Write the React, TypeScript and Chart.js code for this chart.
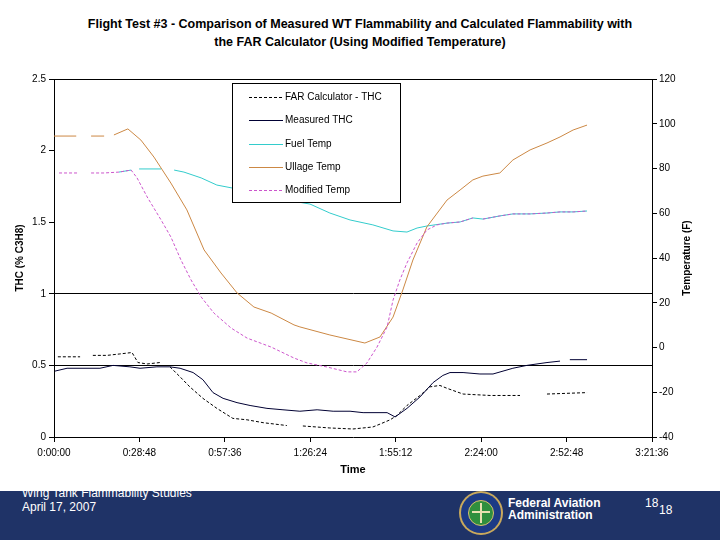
import React, { useEffect, useRef } from 'react';
import { Chart, registerables } from 'chart.js';

Chart.register(...registerables);

// ---- axis definitions ----
const thcTicks = [0, 0.5, 1, 1.5, 2, 2.5];
const thcLimitLines = [0.5, 1];
const tempTicks = [-40, -20, 0, 20, 40, 60, 80, 100, 120];
const timeTickLabels = ['0:00:00', '0:28:48', '0:57:36', '1:26:24', '1:55:12', '2:24:00', '2:52:48', '3:21:36'];
const timeStepSec = 1728;

// ---- series (time in minutes, null = gap) ----
const farTime = [1.3, 8.8, 10.9, 13.1, 17.9, 22.2, 26.3, 28.3, 31.4, 35.7, 37.4, 39.1, 42.5, 45.8, 50.2, 54.9, 60.3, 65.1, 70.5, 78.5, 81.2, 83.9, 93.0, 100.8, 107.5, 109.9, 113.3, 115.6, 119.0, 123.4, 126.7, 130.1, 132.5, 137.9, 147.0, 157.1, 161.6, 166.2, 179.7];
const farTHC = [0.56, 0.56, null, 0.57, 0.57, 0.58, 0.59, 0.52, 0.51, 0.52, null, 0.49, 0.42, 0.35, 0.27, 0.2, 0.13, 0.12, 0.1, 0.08, null, 0.077, 0.063, 0.056, 0.07, 0.09, 0.12, 0.15, 0.22, 0.29, 0.35, 0.36, 0.34, 0.3, 0.29, 0.29, null, 0.3, 0.31];

const measuredTime = [0.3, 4.4, 15.5, 19.9, 25.6, 29.0, 34.7, 39.1, 42.5, 46.9, 50.2, 53.6, 57.0, 61.7, 66.1, 71.8, 77.2, 82.9, 88.7, 94.1, 99.8, 104.2, 112.3, 115.0, 119.0, 123.4, 127.8, 131.1, 133.5, 137.9, 143.6, 148.0, 154.7, 159.4, 166.2, 170.6, 172.2, 173.9, 179.7];
const measuredTHC = [0.46, 0.48, 0.48, 0.5, 0.49, 0.48, 0.49, 0.49, 0.48, 0.45, 0.4, 0.31, 0.27, 0.24, 0.22, 0.2, 0.19, 0.18, 0.19, 0.18, 0.18, 0.17, 0.17, 0.14, 0.2, 0.28, 0.38, 0.43, 0.45, 0.45, 0.44, 0.44, 0.48, 0.5, 0.52, 0.53, null, 0.54, 0.54];

const fuelTime = [21.9, 26.0, 27.4, 28.7, 36.1, 38.3, 40.5, 43.8, 49.6, 54.9, 60.0, 69.0, 78.0, 86.3, 93.0, 99.8, 107.5, 114.3, 119.0, 122.4, 125.7, 132.5, 136.9, 141.2, 144.6, 150.3, 154.7, 160.5, 166.2, 170.6, 175.0, 179.7];
const fuelTemp = [78.4, 79.3, null, 79.8, 79.8, null, 79.3, 78.4, 75.8, 72.6, 71.3, 68.5, 66.0, 64.1, 60.1, 57.0, 54.8, 52.1, 51.6, 53.4, 54.3, 55.6, 56.1, 57.9, 57.4, 58.8, 59.7, 59.7, 60.1, 60.6, 60.6, 61.0];

const ullageTime = [0, 7.5, 9.5, 12.5, 16.9, 18.5, 20.2, 24.9, 29.3, 33.7, 39.4, 44.8, 50.6, 56.3, 61.7, 67.4, 73.2, 80.9, 82.9, 93.0, 104.8, 109.9, 114.3, 117.6, 121.0, 125.7, 132.5, 136.9, 141.2, 144.6, 150.3, 154.7, 160.5, 166.2, 170.6, 175.0, 179.7];
const ullageTemp = [94.5, 94.5, null, 94.5, 94.5, null, 95.0, 97.7, 92.7, 85.1, 73.5, 61.5, 43.6, 33.3, 24.4, 18.1, 15.4, 10.1, 9.2, 5.6, 2.0, 4.7, 13.6, 25.7, 39.1, 53.9, 65.9, 70.4, 74.9, 76.6, 78.0, 83.8, 88.3, 91.4, 94.1, 97.2, 99.4];

const modifiedTime = [1.7, 8.4, 10.5, 12.5, 16.9, 21.9, 26.0, 28.0, 31.4, 36.1, 39.4, 42.8, 46.2, 49.6, 53.9, 59.7, 65.1, 73.2, 80.9, 85.3, 92.0, 98.8, 102.1, 105.5, 108.9, 112.3, 114.3, 116.6, 119.0, 122.4, 125.7, 129.1, 132.5, 136.9, 141.2, 142.5, 144.6, 150.3, 154.7, 160.5, 166.2, 170.6, 175.0, 179.7];
const modifiedTemp = [78.0, 78.0, null, 78.0, 78.0, 78.4, 79.3, 75.8, 67.3, 57.0, 49.4, 39.1, 30.2, 22.6, 15.4, 8.7, 4.2, 0.2, -4.7, -6.9, -8.7, -10.9, -10.9, -6.9, 0.2, 9.2, 21.2, 30.2, 37.8, 46.7, 52.5, 54.8, 55.6, 56.1, 57.9, null, 57.4, 58.8, 59.7, 59.7, 60.1, 60.6, 60.6, 61.0];

const seriesLabels = ['FAR Calculator - THC', 'Measured THC', 'Fuel Temp', 'Ullage Temp', 'Modified Temp'];

const FONT = '"Liberation Sans", Arial, sans-serif';

function toPoints(times: number[], vals: (number | null)[]) {
  return times.map((t, i) => ({ x: t * 60, y: vals[i] }));
}

const overlayPlugin = {
  id: 'overlay',
  afterDraw(chart: any) {
    const { ctx, chartArea: ca } = chart;
    ctx.save();
    // top border of the plot area
    ctx.strokeStyle = '#000';
    ctx.lineWidth = 1;
    ctx.setLineDash([]);
    const ty = Math.floor(ca.top) + 0.5;
    ctx.beginPath();
    ctx.moveTo(Math.floor(ca.left), ty);
    ctx.lineTo(Math.ceil(ca.right), ty);
    ctx.stroke();

    // legend box
    const x0 = Math.round(ca.left + 178);
    const y0 = Math.round(ca.top + 4);
    const w = 169;
    const h = 120;
    ctx.fillStyle = '#fff';
    ctx.fillRect(x0, y0, w, h);
    ctx.strokeStyle = '#000';
    ctx.strokeRect(x0 + 0.5, y0 + 0.5, w - 1, h - 1);
    chart.data.datasets.forEach((ds: any, i: number) => {
      const y = Math.round(y0 + 14 + i * 23.25) + 0.5;
      ctx.strokeStyle = ds.borderColor;
      ctx.lineWidth = 1;
      ctx.setLineDash(ds.borderDash || []);
      ctx.beginPath();
      ctx.moveTo(x0 + 17, y);
      ctx.lineTo(x0 + 51, y);
      ctx.stroke();
      ctx.setLineDash([]);
      ctx.fillStyle = '#000';
      ctx.font = '10px ' + FONT;
      ctx.textBaseline = 'middle';
      ctx.textAlign = 'left';
      ctx.fillText(ds.label, x0 + 53, y);
    });

    // right axis title
    ctx.translate(687, (ca.top + ca.bottom) / 2);
    ctx.rotate(-Math.PI / 2);
    ctx.font = 'bold 10px ' + FONT;
    ctx.fillStyle = '#000';
    ctx.textAlign = 'center';
    ctx.textBaseline = 'middle';
    ctx.fillText('Temperature (F)', 0, 0);
    ctx.restore();
  },
};

export default function App() {
  const ref = useRef<HTMLCanvasElement>(null);

  useEffect(() => {
    if (!ref.current) return;
    const tickFont = { family: FONT, size: 10 };
    const chart = new Chart(ref.current, {
      type: 'line',
      data: {
        datasets: [
          { label: seriesLabels[0], data: toPoints(farTime, farTHC), yAxisID: 'y', borderColor: '#000000', borderDash: [3, 2], borderWidth: 1, order: 4 },
          { label: seriesLabels[1], data: toPoints(measuredTime, measuredTHC), yAxisID: 'y', borderColor: '#000033', borderWidth: 1, order: 3 },
          { label: seriesLabels[2], data: toPoints(fuelTime, fuelTemp), yAxisID: 'y2', borderColor: '#33CCCC', borderWidth: 1, order: 2 },
          { label: seriesLabels[3], data: toPoints(ullageTime, ullageTemp), yAxisID: 'y2', borderColor: '#CC8844', borderWidth: 1, order: 1 },
          { label: seriesLabels[4], data: toPoints(modifiedTime, modifiedTemp), yAxisID: 'y2', borderColor: '#CC55CC', borderDash: [3, 2], borderWidth: 1, order: 0 },
        ] as any,
      },
      options: {
        animation: false,
        responsive: false,
        layout: { padding: { top: 79, left: 0, right: 0, bottom: 0 } },
        plugins: { legend: { display: false }, tooltip: { enabled: false }, title: { display: false } },
        elements: { point: { radius: 0 }, line: { tension: 0 } },
        scales: {
          x: {
            type: 'linear',
            min: 0,
            max: timeStepSec * (timeTickLabels.length - 1),
            ticks: {
              stepSize: timeStepSec,
              autoSkip: false,
              maxRotation: 0,
              padding: 5,
              color: '#000',
              font: tickFont,
              callback: (v: any) => timeTickLabels[Math.round(Number(v) / timeStepSec)] ?? '',
            },
            grid: { drawOnChartArea: false, tickLength: 5, tickColor: '#000' },
            border: { color: '#000' },
            title: { display: true, text: 'Time', color: '#000', font: { family: FONT, size: 11, weight: 'bold' }, padding: { top: 0, bottom: 3 } },
            afterFit: (s: any) => { s.height = 43; },
          },
          y: {
            position: 'left',
            min: thcTicks[0],
            max: thcTicks[thcTicks.length - 1],
            ticks: { stepSize: 0.5, padding: 3, color: '#000', font: tickFont, callback: (v: any) => String(v) },
            grid: {
              color: (c: any) => (c.tick && thcLimitLines.includes(c.tick.value) ? '#000' : 'rgba(0,0,0,0)'),
              tickColor: '#000',
              tickLength: 5,
            },
            border: { color: '#000' },
            title: { display: true, text: 'THC (% C3H8)', color: '#000', font: { family: FONT, size: 10, weight: 'bold' }, padding: { top: 14, bottom: 0 } },
            afterFit: (s: any) => { s.width = 54; },
          },
          y2: {
            position: 'right',
            min: tempTicks[0],
            max: tempTicks[tempTicks.length - 1],
            ticks: { stepSize: 20, padding: 2, color: '#000', font: tickFont, callback: (v: any) => String(v) },
            grid: { drawOnChartArea: false, tickColor: '#000', tickLength: 5 },
            border: { color: '#000' },
            afterFit: (s: any) => { s.width = 68; },
          },
        },
      } as any,
      plugins: [overlayPlugin],
    });
    return () => chart.destroy();
  }, []);

  const white: React.CSSProperties = { position: 'absolute', color: '#fff', fontFamily: FONT, fontSize: 12, lineHeight: '12px', whiteSpace: 'nowrap' };

  return (
    <div style={{ position: 'fixed', left: 0, top: 0, width: 720, height: 540, background: '#fff', overflow: 'hidden' }}>
      <div style={{ position: 'absolute', left: 0, top: 15, width: 720, textAlign: 'center', fontFamily: FONT, fontWeight: 'bold', fontSize: 12.5, lineHeight: '18px', color: '#000' }}>
        <div>Flight Test #3 - Comparison of Measured WT Flammability and Calculated Flammability with</div>
        <div>the FAR Calculator (Using Modified Temperature)</div>
      </div>
      <canvas ref={ref} width={720} height={480} style={{ position: 'absolute', left: 0, top: 0, width: 720, height: 480 }} />
      <div style={{ position: 'absolute', left: 0, top: 491, width: 720, height: 49, background: '#1f3367' }} />
      <div style={{ ...white, left: 22, top: 487 }}>Wing Tank Flammability Studies</div>
      <div style={{ ...white, left: 22, top: 501 }}>April 17, 2007</div>
      <div style={{ position: 'absolute', left: 459, top: 491, width: 44, height: 44, borderRadius: '50%', background: '#c9a95c' }} />
      <div style={{ position: 'absolute', left: 461, top: 493, width: 40, height: 40, borderRadius: '50%', background: '#1d3b86' }} />
      <div style={{ position: 'absolute', left: 468, top: 500, width: 26, height: 26, borderRadius: '50%', background: '#2f8f3e', border: '1px solid #d8c070', boxSizing: 'border-box' }} />
      <div style={{ position: 'absolute', left: 480, top: 503, width: 2, height: 20, background: '#e8e0b0' }} />
      <div style={{ position: 'absolute', left: 472, top: 511, width: 18, height: 2, background: '#e8e0b0' }} />
      <div style={{ ...white, left: 508, top: 497, fontWeight: 'bold' }}>Federal Aviation</div>
      <div style={{ ...white, left: 508, top: 509, fontWeight: 'bold' }}>Administration</div>
      <div style={{ ...white, left: 645, top: 497 }}>18</div>
      <div style={{ ...white, left: 659, top: 504 }}>18</div>
    </div>
  );
}
